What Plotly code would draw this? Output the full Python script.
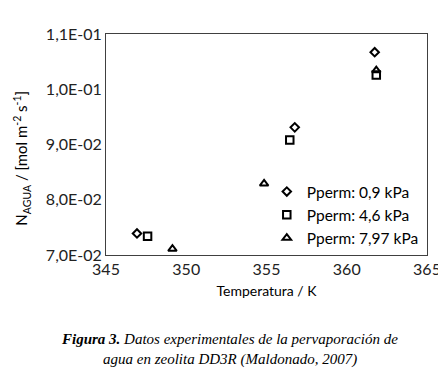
import plotly.graph_objects as go

series_names = ["Pperm: 0,9 kPa", "Pperm: 4,6 kPa", "Pperm: 7,97 kPa"]
temp_09 = [346.93, 356.76, 361.74]
flux_09 = [0.0739, 0.0931, 0.1067]
temp_46 = [347.59, 356.45, 361.84]
flux_46 = [0.0734, 0.0908, 0.1026]
temp_797 = [349.14, 354.85, 361.84]
flux_797 = [0.0711, 0.0829, 0.1034]

x_ticks = [345, 350, 355, 360, 365]
y_ticks = [0.07, 0.08, 0.09, 0.10, 0.11]
y_tick_labels = ["7,0E-02", "8,0E-02", "9,0E-02", "1,0E-01", "1,1E-01"]

symbols = ["diamond-open", "square-open", "triangle-up-open"]
sizes = [6.5, 7.5, 7.5]
data = [(temp_09, flux_09), (temp_46, flux_46), (temp_797, flux_797)]

fig = go.Figure()
for name, (xs, ys), sym, sz in zip(series_names, data, symbols, sizes):
    fig.add_trace(go.Scatter(
        x=xs, y=ys, mode="markers", name=name,
        marker=dict(symbol=sym, size=sz, color="black", line=dict(color="black", width=2)),
    ))

fig.update_layout(
    width=446, height=374,
    margin=dict(l=98, r=27, t=26, b=127),
    paper_bgcolor="white", plot_bgcolor="white",
    font=dict(family="Lato, Liberation Sans, sans-serif", size=15, color="black"),
    showlegend=True,
    legend=dict(x=0.99, y=0.0, xanchor="right", yanchor="bottom",
                bgcolor="rgba(0,0,0,0)", font=dict(size=15.5),
                tracegroupgap=0, itemwidth=30, traceorder="normal"),
    xaxis=dict(range=[345, 365], tickvals=x_ticks, showgrid=False, zeroline=False,
               showline=True, mirror=True, linecolor="#404040", linewidth=1,
               ticks="", tickfont=dict(size=16, color="#222222"),
               title=dict(text="Temperatura / K", standoff=8, font=dict(size=14))),
    yaxis=dict(range=[0.07, 0.11], tickvals=y_ticks, ticktext=y_tick_labels, showgrid=False,
               zeroline=False, showline=True, mirror=True, linecolor="#404040", linewidth=1,
               ticks="", tickfont=dict(size=16, color="#222222")),
)

fig.add_annotation(
    xref="paper", yref="paper", x=-0.262, y=0.44, xanchor="center", yanchor="middle",
    text="N<sub>AGUA</sub> / [mol m<sup>-2</sup> s<sup>-1</sup>]", textangle=-90,
    showarrow=False, font=dict(family="Liberation Sans Narrow, Lato, sans-serif", size=15),
)
fig.add_annotation(
    xref="paper", yref="paper", x=0.385, y=-0.38, xanchor="center", yanchor="middle",
    text="<b><i>Figura 3.</i></b><i> Datos experimentales de la pervaporación de</i>",
    showarrow=False, font=dict(family="Liberation Serif, serif", size=15),
)
fig.add_annotation(
    xref="paper", yref="paper", x=0.385, y=-0.475, xanchor="center", yanchor="middle",
    text="<i>agua en zeolita DD3R (Maldonado, 2007)</i>",
    showarrow=False, font=dict(family="Liberation Serif, serif", size=15),
)

fig.write_html("out.html")
